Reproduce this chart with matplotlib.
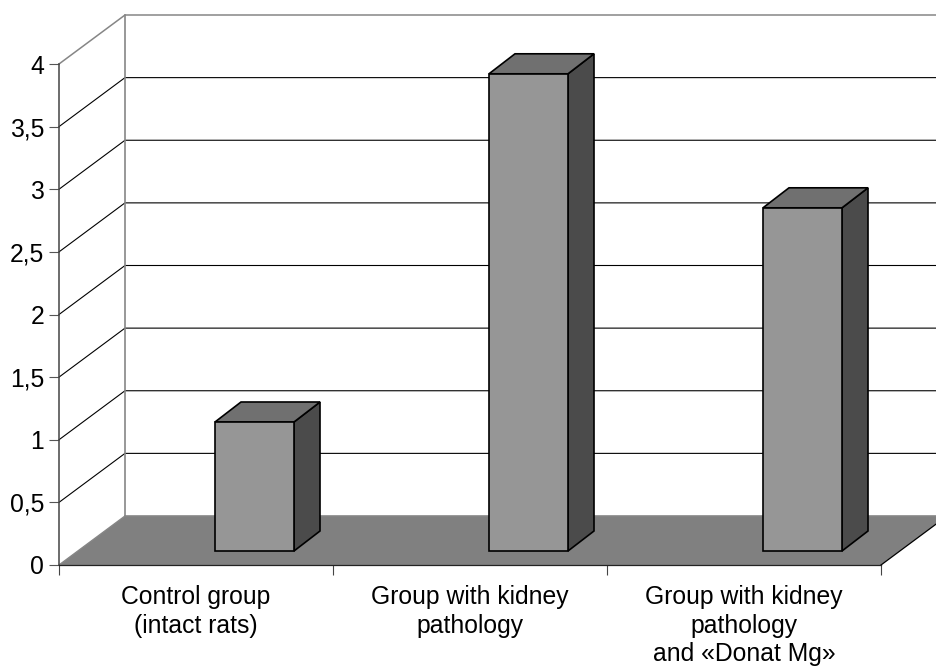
import matplotlib
matplotlib.use("Agg")
import matplotlib.pyplot as plt
from matplotlib.patches import Polygon

categories = ["Control group\n(intact rats)",
              "Group with kidney\npathology",
              "Group with kidney\npathology\nand «Donat Mg»"]
values = [1.03, 3.81, 2.74]
y_ticks = [0, 0.5, 1, 1.5, 2, 2.5, 3, 3.5, 4]
y_tick_labels = ["0", "0,5", "1", "1,5", "2", "2,5", "3", "3,5", "4"]

W, H = 936, 668
plt.rcParams["font.family"] = ["Liberation Sans", "DejaVu Sans"]
fig = plt.figure(figsize=(W / 100, H / 100), dpi=100, facecolor="white")
ax = fig.add_axes([59 / W, (H - 565) / H, 822 / W, 501 / H])
ax.set_xlim(0, len(categories))
ax.set_ylim(0, 4)
ax.patch.set_visible(False)

px_x = 3 / 822   # data units per pixel
px_y = 4 / 501
DX, DY = 66 * px_x, 49 * px_y        # wall depth
bx, by = 26 * px_x, 20 * px_y        # bar depth
bar_w = 79 * px_x
bar_shift = 58.5 * px_x
bar_base = 14 * px_y
xmax = len(categories)
GRAY = "#868686"

# floor
ax.add_patch(Polygon([(0, 0), (xmax, 0), (xmax + DX, DY), (DX, DY)], closed=True,
                     fc="#808080", ec="none", clip_on=False, zorder=1))
ax.plot([xmax, xmax + DX], [0, DY], color="black", lw=0.9, clip_on=False, zorder=1.5)
ax.plot([0, DX], [0, DY], color=GRAY, lw=1, clip_on=False, zorder=1.5)
ax.plot([DX, xmax + DX], [DY, DY], color=GRAY, lw=1.2, clip_on=False, zorder=1.5)

# walls and gridlines
for t in y_ticks[1:-1]:
    ax.plot([0, DX, xmax + DX], [t, t + DY, t + DY], color="black", lw=0.8,
            clip_on=False, zorder=1.2, solid_joinstyle="miter")
ax.plot([0, DX, xmax + DX], [4, 4 + DY, 4 + DY], color=GRAY, lw=1.1, clip_on=False, zorder=1.3)
ax.plot([DX, DX], [DY, 4 + DY], color=GRAY, lw=1.2, clip_on=False, zorder=1.3)

# 3-D bars
for i, v in enumerate(values):
    x0 = i + 0.5 + bar_shift - bar_w / 2
    x1 = x0 + bar_w
    y0, y1 = bar_base, bar_base + v
    kw = dict(closed=True, ec="black", lw=1.2, clip_on=False, zorder=3, joinstyle="miter")
    ax.add_patch(Polygon([(x1, y0), (x1 + bx, y0 + by), (x1 + bx, y1 + by), (x1, y1)], fc="#4b4b4b", **kw))
    ax.add_patch(Polygon([(x0, y1), (x1, y1), (x1 + bx, y1 + by), (x0 + bx, y1 + by)], fc="#707070", **kw))
    ax.add_patch(Polygon([(x0, y0), (x1, y0), (x1, y1), (x0, y1)], fc="#969696", **kw))

# axes
for s in ("top", "right"):
    ax.spines[s].set_visible(False)
ax.spines["left"].set_color("#444444")
ax.spines["left"].set_linewidth(1.1)
ax.spines["left"].set_zorder(4)
ax.spines["bottom"].set_color("#222222")
ax.spines["bottom"].set_linewidth(0.9)
ax.spines["bottom"].set_zorder(4)
ax.set_yticks(y_ticks)
ax.set_yticklabels(y_tick_labels, fontsize=17.8)
ax.tick_params(axis="y", length=7.2, width=0.8, color="#555555", pad=3.4)
ax.set_xticks(range(xmax + 1))
ax.set_xticklabels([])
ax.tick_params(axis="x", which="major", length=7.2, width=0.8, color="#444444")
ax.set_xticks([i + 0.5 for i in range(xmax)], minor=True)
ax.set_xticklabels(categories, minor=True, fontsize=17.8, linespacing=1.23)
ax.tick_params(axis="x", which="minor", length=0, pad=14.5)

fig.savefig("out.png", dpi=100)
